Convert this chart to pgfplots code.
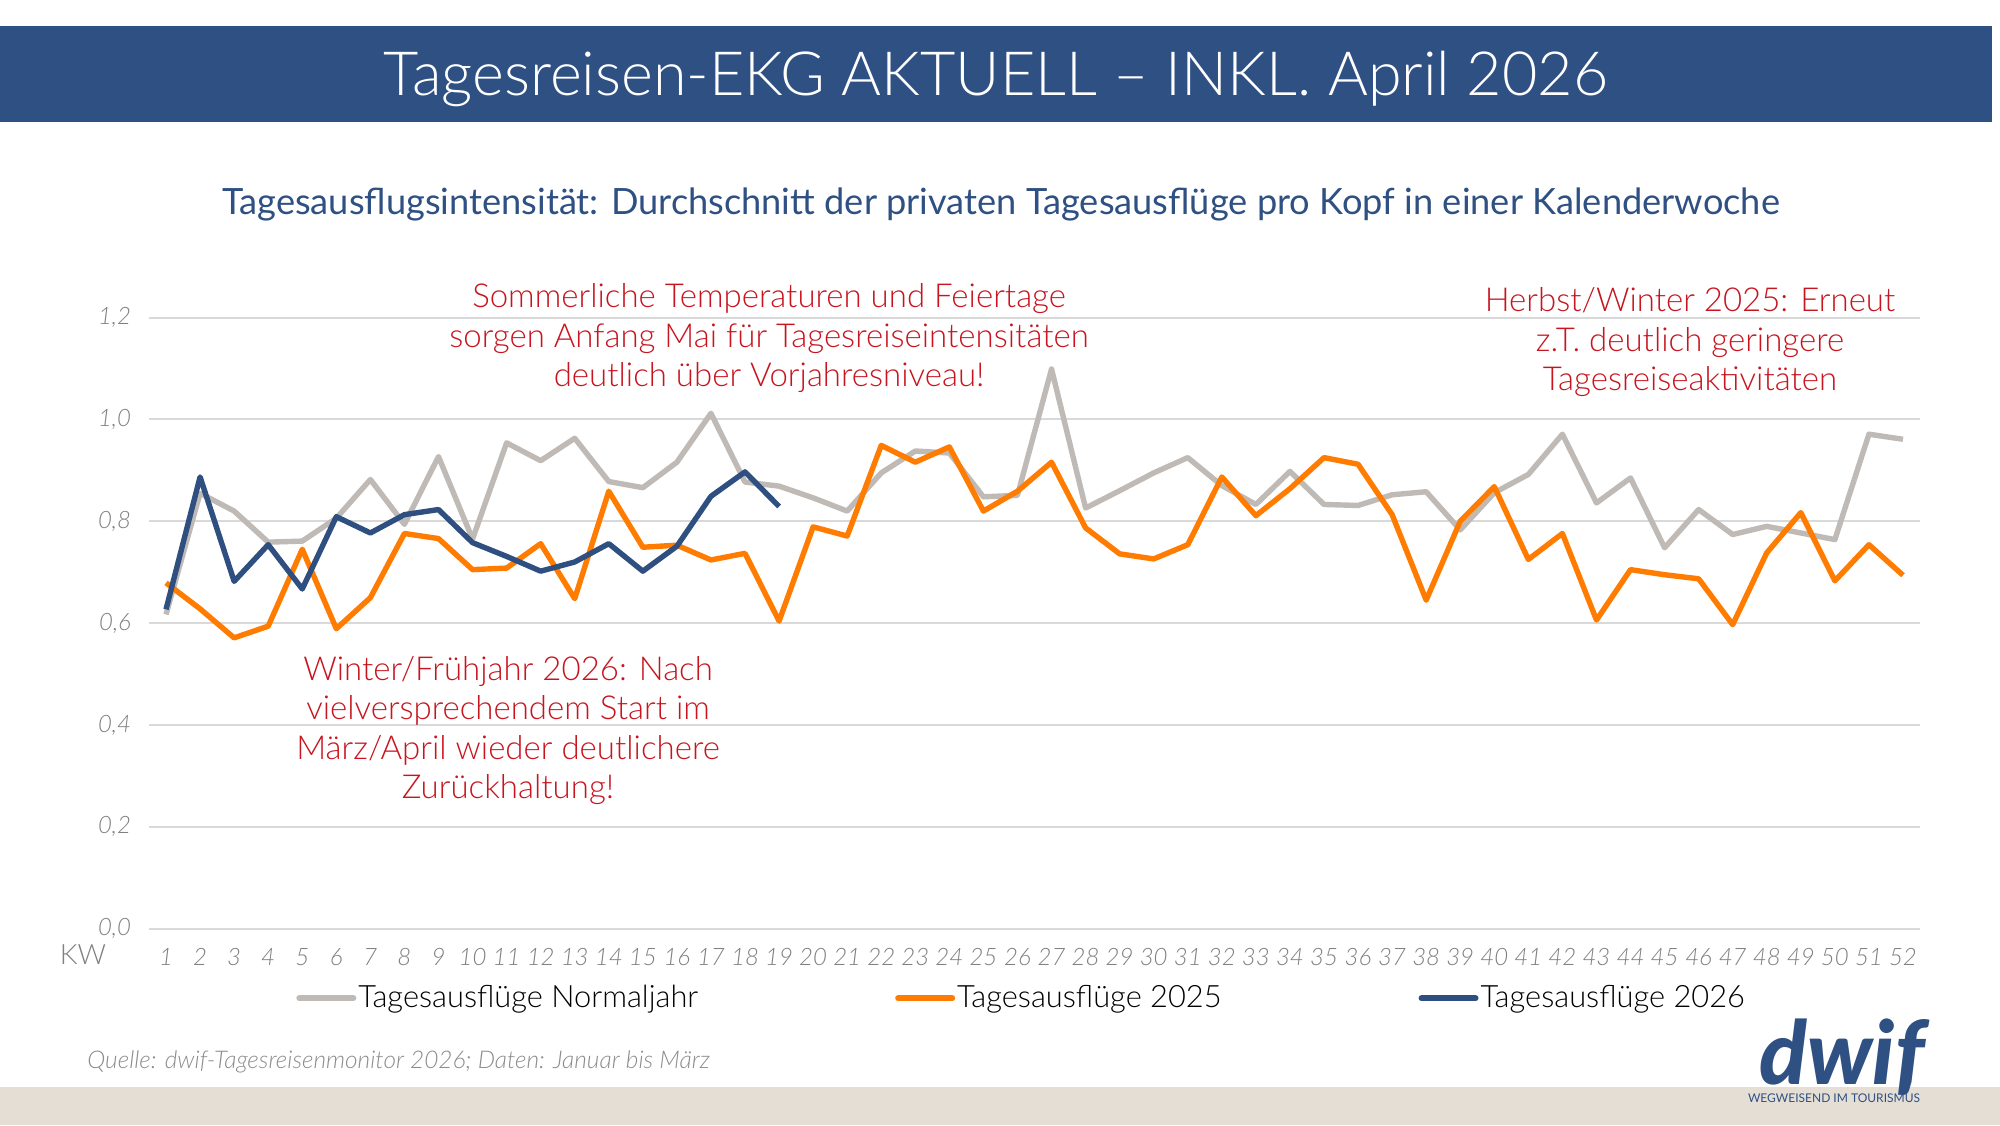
\documentclass[border=0pt]{standalone}
\usepackage{pgfplots}
\pgfplotsset{compat=1.18}
\usepackage{fontspec}
\setmainfont{Lato}[UprightFont=* Light, ItalicFont=* Light Italic, BoldFont=* Bold, BoldItalicFont=* Bold Italic]
\newfontfamily\latoreg{Lato}
\newfontfamily\latologo{Lato}[UprightFont=* Black Italic]

\definecolor{dwifblue}{HTML}{2F5083}
\definecolor{normgray}{HTML}{BFBAB6}
\definecolor{orange25}{HTML}{FF7C00}
\definecolor{blue26}{HTML}{2F4F80}
\definecolor{noteRed}{HTML}{C8141E}
\definecolor{gridgray}{HTML}{D9D9D9}
\definecolor{ticklab}{HTML}{808080}
\definecolor{beige}{HTML}{E5DED5}
\definecolor{srcgray}{HTML}{8C8C8C}

% weekly day-trip intensity (trips per head and calendar week)
\pgfplotstableread{
kw  v
1  0.617
2  0.855
3  0.820
4  0.759
5  0.761
6  0.806
7  0.882
8  0.794
9  0.927
10 0.765
11 0.954
12 0.919
13 0.963
14 0.878
15 0.866
16 0.916
17 1.012
18 0.877
19 0.869
20 0.846
21 0.820
22 0.895
23 0.938
24 0.934
25 0.848
26 0.851
27 1.099
28 0.826
29 0.860
30 0.895
31 0.925
32 0.870
33 0.833
34 0.898
35 0.833
36 0.831
37 0.852
38 0.858
39 0.783
40 0.856
41 0.892
42 0.971
43 0.836
44 0.885
45 0.748
46 0.823
47 0.774
48 0.790
49 0.777
50 0.764
51 0.971
52 0.961
}\normaljahr

\pgfplotstableread{
kw  v
1  0.679
2  0.628
3  0.571
4  0.594
5  0.745
6  0.589
7  0.650
8  0.776
9  0.766
10 0.705
11 0.708
12 0.756
13 0.648
14 0.859
15 0.749
16 0.753
17 0.724
18 0.737
19 0.604
20 0.789
21 0.771
22 0.949
23 0.916
24 0.946
25 0.820
26 0.859
27 0.916
28 0.787
29 0.736
30 0.726
31 0.754
32 0.887
33 0.811
34 0.864
35 0.925
36 0.912
37 0.813
38 0.645
39 0.800
40 0.868
41 0.725
42 0.776
43 0.606
44 0.705
45 0.695
46 0.687
47 0.597
48 0.738
49 0.817
50 0.683
51 0.754
52 0.694
}\jahrA

\pgfplotstableread{
kw  v
1  0.627
2  0.887
3  0.682
4  0.754
5  0.667
6  0.809
7  0.777
8  0.813
9  0.823
10 0.758
11 0.731
12 0.702
13 0.720
14 0.756
15 0.702
16 0.751
17 0.849
18 0.897
19 0.829
}\jahrB

\begin{document}
\begin{tikzpicture}
% canvas: 1000pt x 562.5pt
\path[use as bounding box, fill=white] (0pt,0pt) rectangle (1000pt,562.5pt);

% title banner
\fill[dwifblue] (0pt,549.5pt) rectangle (996pt,501.5pt);
\node[text=white, font=\fontsize{30.5}{36}\selectfont] at (498pt,523pt) {Tagesreisen-EKG AKTUELL -- INKL. April 2026};

% subtitle
\node[text=dwifblue, font=\latoreg\fontsize{18.1}{22}\selectfont] at (500.5pt,460.5pt)
  {Tagesausflugsintensität: Durchschnitt der privaten Tagesausflüge pro Kopf in einer Kalenderwoche};

% footer band
\fill[beige] (0pt,0pt) rectangle (1000pt,19pt);

\begin{axis}[
  at={(74.5pt,98.2pt)}, anchor=south west,
  scale only axis, width=885.5pt, height=305.5pt,
  xmin=0.5, xmax=52.5, ymin=0, ymax=1.2,
  axis lines*=left,
  y axis line style={draw=none},
  x axis line style={gridgray, line width=1pt, -},
  ytick={0,0.2,...,1.2},
  ymajorgrids,
  grid style={gridgray, line width=1pt},
  major y tick style={draw=none},
  xtick={1,...,52},
  major x tick style={draw=none},
  extra x ticks={0.5,1.5,...,52.5},
  extra x tick labels={},
  extra x tick style={grid=none, tick style={gridgray, line width=1pt, draw=gridgray}, major tick length=3.5pt, tick align=outside},
  /pgf/number format/assume math mode=true,
  ticklabel style={font=\itshape\fontsize{12}{14}\selectfont, text=ticklab},
  xticklabel style={yshift=-6.5pt},
  yticklabel style={xshift=-5.5pt, /pgf/number format/.cd, use comma, fixed, fixed zerofill, precision=1},
  legend columns=3,
  legend style={draw=none, fill=none, at={(0.083,-0.114)}, anchor=west,
    inner xsep=0pt, inner ysep=0pt,
    font=\fontsize{15.4}{18}\selectfont, text=black,
    /tikz/every even column/.append style={column sep=97.5pt},
    nodes={inner xsep=1pt}},
  legend image code/.code={\draw[#1, line width=3pt, line cap=round] (0pt,0pt) -- (27pt,0pt);},
  every axis plot/.append style={line width=2.7pt, line join=round, mark=none},
]
\addplot[normgray] table[x=kw, y=v] {\normaljahr};
\addlegendentry{Tagesausflüge Normaljahr}
\addplot[orange25] table[x=kw, y=v] {\jahrA};
\addlegendentry{Tagesausflüge 2025}
\addplot[blue26] table[x=kw, y=v] {\jahrB};
\addlegendentry{Tagesausflüge 2026}
\end{axis}

% axis caption
\node[text=ticklab, font=\fontsize{14}{17}\selectfont] at (41.5pt,85pt) {KW};

% notes
\node[text=noteRed, align=center, font=\fontsize{16.5}{19.75}\selectfont] at (384.5pt,393.3pt)
  {Sommerliche Temperaturen und Feiertage\\sorgen Anfang Mai für Tagesreiseintensitäten\\deutlich über Vorjahresniveau!};
\node[text=noteRed, align=center, font=\fontsize{16.5}{19.75}\selectfont] at (845pt,391.4pt)
  {Herbst/Winter 2025: Erneut\\z.T. deutlich geringere\\Tagesreiseaktivitäten};
\node[text=noteRed, align=center, font=\fontsize{16.5}{19.75}\selectfont] at (254pt,197.2pt)
  {Winter/Frühjahr 2026: Nach\\vielversprechendem Start im\\März/April wieder deutlichere\\Zurückhaltung!};

% source
\node[anchor=west, text=srcgray, font=\itshape\fontsize{12.2}{15}\selectfont, inner sep=0pt] at (43.5pt,31.5pt)
  {Quelle: dwif-Tagesreisenmonitor 2026; Daten: Januar bis März};

% logo
\node[anchor=base, text=dwifblue, font=\latologo\fontsize{44}{44}\selectfont, inner sep=0pt, text depth=0pt] at (921pt,20.5pt) {dwif};
\node[text=dwifblue, font=\latoreg\fontsize{6}{7}\selectfont, inner sep=0pt] at (917pt,13.5pt) {WEGWEISEND IM TOURISMUS};
\end{tikzpicture}
\end{document}
